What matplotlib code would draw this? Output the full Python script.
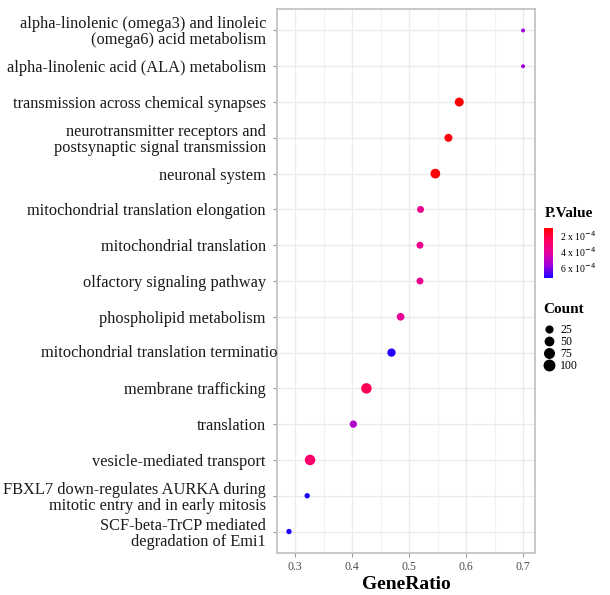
import numpy as np
import matplotlib
matplotlib.use("Agg")
import matplotlib.pyplot as plt
from matplotlib.colors import LinearSegmentedColormap, Normalize
from matplotlib.lines import Line2D
from matplotlib.transforms import Bbox, TransformedBbox, ScaledTranslation

# pathway terms, top to bottom
terms = [
    "alpha-linolenic (omega3) and linoleic\n(omega6) acid metabolism",
    "alpha-linolenic acid (ALA) metabolism",
    "transmission across chemical synapses",
    "neurotransmitter receptors and\npostsynaptic signal transmission",
    "neuronal system",
    "mitochondrial translation elongation",
    "mitochondrial translation",
    "olfactory signaling pathway",
    "phospholipid metabolism",
    "mitochondrial translation termination",
    "membrane trafficking",
    "translation",
    "vesicle-mediated transport",
    "FBXL7 down-regulates AURKA during\nmitotic entry and in early mitosis",
    "SCF-beta-TrCP mediated\ndegradation of Emi1",
]
gene_ratio = [0.70, 0.70, 0.588, 0.569, 0.546, 0.520, 0.519, 0.519,
              0.485, 0.469, 0.425, 0.402, 0.326, 0.321, 0.289]
counts = [8, 8, 62, 43, 80, 27, 27, 27, 38, 48, 100, 32, 100, 12, 12]
pvals = [5.8e-4, 5.8e-4, 1.1e-4, 1.3e-4, 1.2e-4, 3.8e-4, 3.8e-4, 3.8e-4,
         3.9e-4, 7.3e-4, 2.5e-4, 5.4e-4, 2.9e-4, 7.4e-4, 7.4e-4]
count_breaks = [25, 50, 75, 100]
p_breaks = [2e-4, 4e-4, 6e-4]
p_labels = [r"2 x 10$^{-4}$", r"4 x 10$^{-4}$", r"6 x 10$^{-4}$"]

SERIF = "Liberation Serif"
LABEL_SIZE = 11.8
cmap = LinearSegmentedColormap.from_list(
    "rb", [(0, "#ff0000"), (0.25, "#ff0062"), (0.5, "#e400a0"),
           (0.75, "#a000dc"), (1, "#1a00ff")])
norm = Normalize(vmin=1.1e-4, vmax=7.4e-4)


def dot_area(c):
    # ggplot-like area scale: diameter in px -> area in pt^2
    d = 4 + 6.5 * np.sqrt((np.asarray(c, float) - 8) / (100 - 8))
    return (d * 0.72) ** 2


fig = plt.figure(figsize=(6.1, 5.95), dpi=100)
ax = fig.add_axes([277 / 610, 1 - 553 / 595, 258 / 610, 544 / 595])

y = np.arange(len(terms))
sc = ax.scatter(gene_ratio, y, s=dot_area(counts), c=pvals, cmap=cmap,
                norm=norm, edgecolors="none", zorder=3)

ax.set_xlim(0.268, 0.721)
ax.set_ylim(len(terms) - 0.4, -0.6)
ax.set_xticks([0.3, 0.4, 0.5, 0.6, 0.7])
ax.set_xticks([0.35, 0.45, 0.55, 0.65], minor=True)
ax.set_yticks(y)
labels = list(terms)
labels[9] = ""
ax.set_yticklabels(labels, fontfamily=SERIF, fontsize=LABEL_SIZE,
                   linespacing=1.0, color="#1a1a1a")
ax.tick_params(axis="y", length=3, color="#999999", pad=5)
ax.tick_params(axis="x", which="major", length=3, color="#999999",
               labelsize=8.5, labelcolor="#4d4d4d", pad=3)
ax.tick_params(axis="x", which="minor", length=0)
for lab in ax.get_xticklabels():
    lab.set_fontfamily(SERIF)

ax.grid(True, which="major", color="#ebebeb", lw=1.0, zorder=0)
ax.grid(True, which="minor", axis="x", color="#f2f2f2", lw=0.8, zorder=0)
ax.set_axisbelow(True)
for sp in ax.spines.values():
    sp.set_color("#c4c4c4")
    sp.set_linewidth(1.3)

# this label runs into the panel and is cut at its edge
t = ax.text(0.0, 9, terms[9], ha="right", va="center", fontfamily=SERIF,
            fontsize=LABEL_SIZE, color="#1a1a1a",
            transform=ax.get_yaxis_transform()
            + ScaledTranslation(0.09, 0, fig.dpi_scale_trans))
t.set_clip_box(TransformedBbox(Bbox([[0, 0], [277 / 610, 1]]), fig.transFigure))
t.set_clip_on(True)

ax.set_xlabel("GeneRatio", fontfamily=SERIF, fontsize=14, fontweight="bold",
              labelpad=2)

# colour bar legend
cax = fig.add_axes([544 / 610, 1 - 278 / 595, 9 / 610, 50 / 595])
cb = fig.colorbar(sc, cax=cax)
cb.outline.set_visible(False)
cb.set_ticks(p_breaks)
cb.set_ticklabels(p_labels)
cax.invert_yaxis()
cax.tick_params(length=2, color="white", labelsize=7, pad=3)
for lab in cax.get_yticklabels():
    lab.set_fontfamily(SERIF)
fig.text(545 / 610, 1 - 213 / 595, "P.Value", fontfamily=SERIF, fontsize=11,
         fontweight="bold", va="center", ha="left")

# size legend
handles = [Line2D([], [], marker="o", ls="", color="black",
                  markersize=np.sqrt(dot_area(c))) for c in count_breaks]
leg = fig.legend(handles, [str(c) for c in count_breaks], loc="upper left",
                 bbox_to_anchor=(543 / 610, 1 - 303 / 595), frameon=False,
                 title="Count", labelspacing=0.0, handletextpad=0.45,
                 handlelength=1.0, borderaxespad=0, borderpad=0,
                 prop={"family": SERIF, "size": 8.5},
                 title_fontproperties={"family": SERIF, "size": 11,
                                       "weight": "bold"})
leg._legend_box.align = "left"
leg._legend_box.sep = 6

fig.savefig("out.png", dpi=100)
